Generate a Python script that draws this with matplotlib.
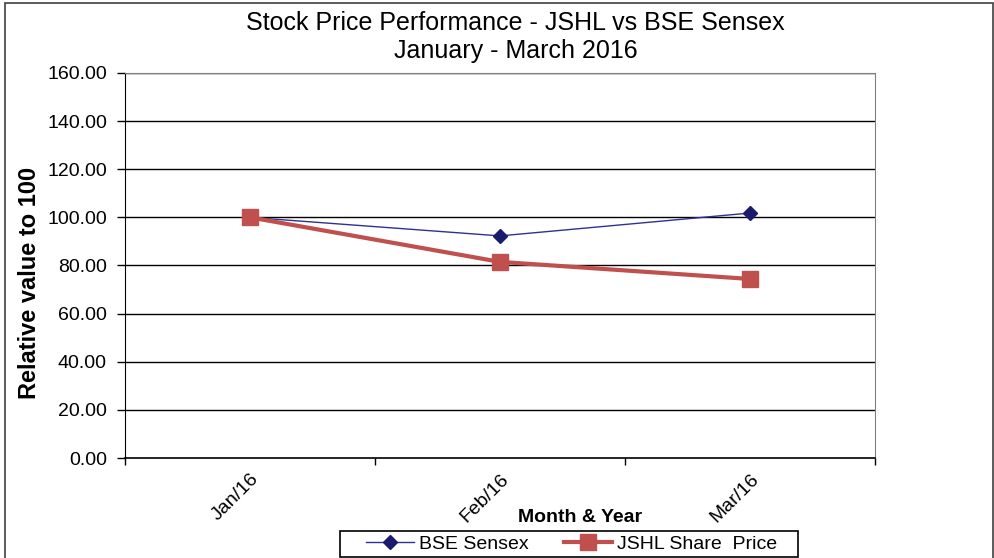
import matplotlib.pyplot as plt
import matplotlib.patches as ptchs
import numpy as np

plt.rcParams["font.family"] = "Liberation Sans"
plt.rcParams['font.size'] = 14

months = ["Jan/16", "Feb/16", "Mar/16"]
bse_sensex = [100.0, 92.3, 101.8]
jshl_price = [100.0, 81.5, 74.4]
y_ticks = [0, 20, 40, 60, 80, 100, 120, 140, 160]


fig = plt.figure(figsize=(9.95, 5.58), dpi=100)
ax = fig.add_axes([0.1256, 0.1792, 0.7538, 0.69])

xs = np.arange(len(months)) + 0.5
ax.plot(xs, bse_sensex, color='#2E3192', lw=1, marker='D', ms=7,
        mfc='#1B1B6E', mec='#1B1B6E', label="BSE Sensex", zorder=3)
ax.plot(xs, jshl_price, color='#C0504D', lw=3, marker='s', ms=12,
        mfc='#C0504D', mec='#C0504D', label="JSHL Share  Price", zorder=4)

ax.set_xlim(0, len(months))
ax.set_ylim(0, 160)
ax.set_yticks(y_ticks, [f"{v:.2f}" for v in y_ticks])
ax.set_xticks(xs, months, rotation=45, ha='right', rotation_mode='anchor')
ax.set_xticks(np.arange(len(months) + 1), minor=True)
ax.tick_params(axis='x', which='major', length=0, pad=9, labelsize=14)
ax.tick_params(axis='x', which='minor', length=5, width=1, color='black')
ax.tick_params(axis='y', length=6, width=1, color='black', labelsize=14, pad=7)

for v in y_ticks[1:]:
    ax.axhline(v, color='black', lw=1, zorder=1)
for side in ('top', 'right'):
    ax.spines[side].set_color('#808080')
ax.spines['left'].set_color('black')
ax.spines['bottom'].set_color('black')
ax.spines['bottom'].set_linewidth(1.2)

ax.set_ylabel("Relative value to 100", fontsize=17, fontweight='bold')
ax.yaxis.set_label_coords(-0.112, 0.455)
fig.text(0.518, 0.934, "Stock Price Performance - JSHL vs BSE Sensex\nJanuary - March 2016",
         ha='center', va='center', fontsize=18, linespacing=1.18)
fig.text(0.583, 0.072, "Month & Year", ha='center', va='center', fontsize=14, fontweight='bold')

leg = fig.legend(loc='center', bbox_to_anchor=(0.5745, 0.0245), ncol=2, frameon=False,
                 fontsize=14, handlelength=2.5, columnspacing=1.8, borderpad=0.1,
                 handletextpad=0.25)

fig.patches.append(ptchs.Rectangle((340 / 995, 1 - 557 / 558), 458 / 995, 26 / 558,
                                   transform=fig.transFigure, fill=False,
                                   edgecolor='black', lw=1.2))
fig.patches.append(ptchs.Rectangle((0.005, -0.01), 0.993, 1.005, transform=fig.transFigure,
                                   fill=False, edgecolor='#404040', lw=1.2))

fig.savefig("out.png", dpi=100)
